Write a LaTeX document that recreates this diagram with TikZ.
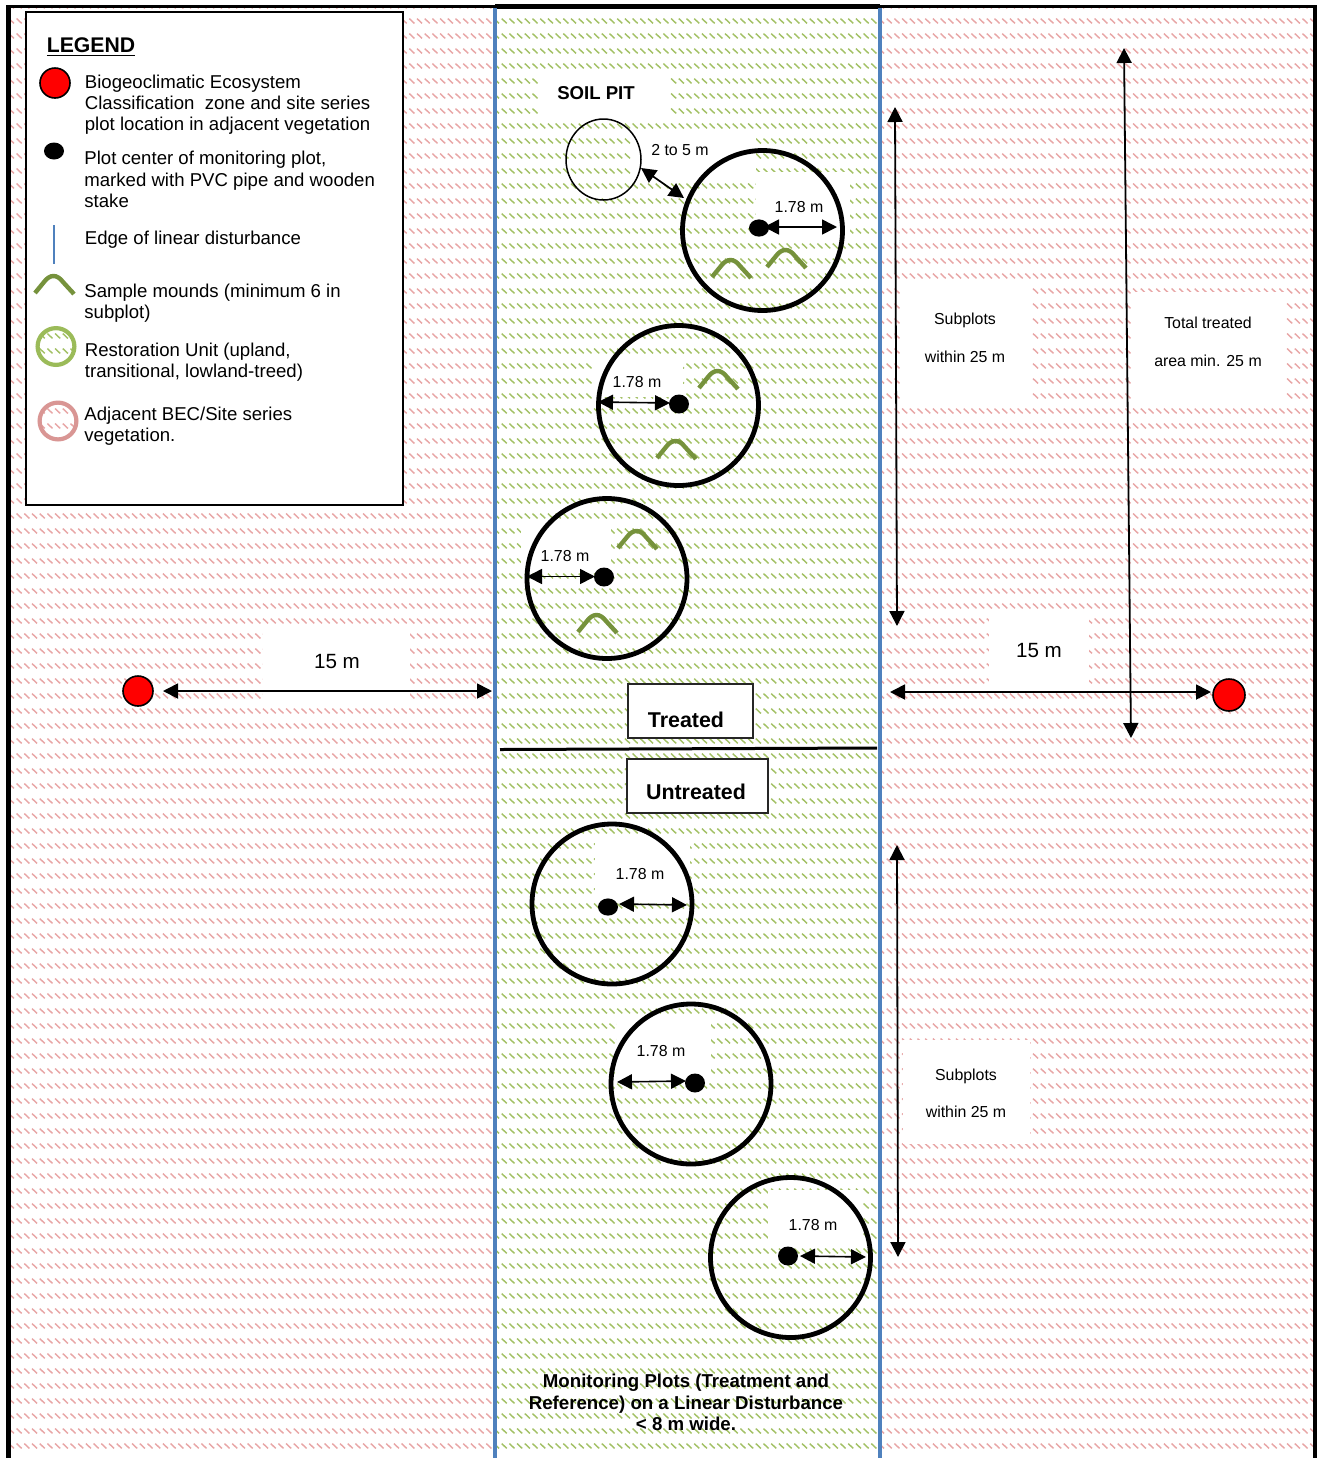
\documentclass[tikz,border=0pt]{standalone}
\usepackage{fontspec}
\setmainfont{Liberation Sans}
\usetikzlibrary{arrows.meta,patterns,shapes.geometric}
\definecolor{hatchgreen}{HTML}{A3C165}
\definecolor{hatchpink}{HTML}{E8A6A6}
\definecolor{ringgreen}{HTML}{9BBB59}
\definecolor{ringpink}{HTML}{D99694}
\definecolor{moundgreen}{HTML}{76923C}
\definecolor{edgeblue}{HTML}{4F81BD}
\pgfdeclarepatternformonly{slashrows}{\pgfqpoint{-0.5pt}{3.5pt}}{\pgfqpoint{4.5pt}{8.5pt}}{\pgfqpoint{3.85pt}{7.5pt}}{%
  \pgfsetlinewidth{0.72pt}
  \pgfpathmoveto{\pgfqpoint{0.6pt}{7.2pt}}
  \pgfpathlineto{\pgfqpoint{3.15pt}{4.8pt}}
  \pgfusepath{stroke}
}
\newcommand{\fpx}[2]{\fontsize{#1pt}{#2pt}\selectfont}
\tikzset{
  x=0.5pt,y=-0.5pt,
  patch/.style={fill=white,draw=none},
  plot/.style={circle,draw=black,line width=2.4pt,minimum size=80pt,inner sep=0pt},
  pit/.style={ellipse,draw=black,line width=0.75pt,minimum width=37.5pt,minimum height=40.5pt,inner sep=0pt},
  centre/.style={ellipse,fill=black,minimum width=10pt,minimum height=8.6pt,inner sep=0pt},
  reddot/.style={circle,fill=red,draw=black,line width=0.8pt,minimum size=15pt,inner sep=0pt},
  dim/.style={draw=black,line width=0.8pt,{Triangle[length=7.5pt,width=7.5pt]}-{Triangle[length=7.5pt,width=7.5pt]}},
  longdim/.style={dim,line width=0.9pt},
  moundline/.style={draw=moundgreen,line width=2.2pt},
  pics/mound/.style={code={\draw[moundline] (0,0) -- (9,-11) .. controls (15,-19) and (22,-19) .. (28,-11) -- (39,1);}},
  small/.style={inner sep=0pt,font=\fpx{7.95}{9}},
  big/.style={inner sep=0pt,font=\fpx{10.3}{12}},
  legendtext/.style={anchor=west,inner sep=0pt,align=left,font=\fpx{9.3}{10.6}},
  heading/.style={inner sep=0pt,font=\fpx{9.3}{11}\bfseries},
  tag/.style={draw=black!85,line width=0.6pt,fill=white},
  tagtext/.style={inner sep=0pt,font=\fpx{10.7}{12}\bfseries},
}
\begin{document}
\begin{tikzpicture}
\useasboundingbox (0,0) rectangle (1317,1458);
\fill[white] (0,0) rectangle (1317,1458);
% hatched ground
\fill[pattern=slashrows,pattern color=hatchpink] (10,8) rectangle (1313,1456);
\fill[white] (496,8) rectangle (878,1458);
\fill[pattern=slashrows,pattern color=hatchgreen] (497,8) rectangle (878,1456);
% white patches behind labels
\fill[patch] (539,72) rectangle (669,117);
\fill[patch] (632,132) rectangle (756,177);
\fill[patch] (756,172) rectangle (850,237);
\fill[patch] (593,355) rectangle (683,397);
\fill[patch] (521,528) rectangle (611,568);
\fill[patch] (595,840) rectangle (690,897);
\fill[patch] (617,1015) rectangle (711,1075);
\fill[patch] (768,1190) rectangle (863,1248);
\fill[patch] (900,285) rectangle (1031,400);
\fill[patch] (1131,292) rectangle (1286,403);
\fill[patch] (989,615) rectangle (1089,685);
\fill[patch] (263,628) rectangle (410,700);
\fill[patch] (903,1040) rectangle (1030,1144);
% frame
\fill[black] (6,5) rectangle (11,1458);
\fill[black] (1313,5) rectangle (1317,1458);
\fill[black] (6,5) rectangle (1317,8);
\fill[black] (495,4) rectangle (880,9);
% edges of the disturbance
\draw[edgeblue,line width=2pt] (494.5,8) -- (494.5,1458);
\draw[edgeblue,line width=2pt] (879.5,8) -- (879.5,1458);
\draw[black,line width=1.5pt] (500,749.5) -- (877,748);
% tags
\node[tag,minimum width=62.5pt,minimum height=27pt,inner sep=0pt] (treatedbox) at (690.5,711) {};
\node[tagtext] (treated) at (686,720) {Treated};
\node[tag,minimum width=70.5pt,minimum height=27pt,inner sep=0pt] (untreatedbox) at (697.5,786) {};
\node[tagtext] (untreated) at (696,792) {Untreated};
% plots
\node[pit] (soilpit) at (603.5,159.5) {};
\node[plot] (p1) at (762.5,230.5) {};
\node[plot] (p2) at (678.5,405.5) {};
\node[plot] (p3) at (607,578.5) {};
\node[plot] (u1) at (612,904) {};
\node[plot] (u2) at (691,1084) {};
\node[plot] (u3) at (790.5,1257.5) {};
% mounds
\pic (m1) at (712,277) {mound};
\pic (m2) at (767,267) {mound};
\pic (m3) at (699,388) {mound};
\pic (m4) at (657,458) {mound};
\pic (m5) at (618,548) {mound};
\pic (m6) at (578,632) {mound};
% centres
\node[centre] (cp1) at (759,228) {};
\node[centre,minimum height=9.5pt] (cp2) at (679,404) {};
\node[centre,minimum height=9.5pt] (cp3) at (604,577) {};
\node[centre] (cu1) at (608,907) {};
\node[centre,minimum height=9.5pt] (cu2) at (695,1083) {};
\node[centre,minimum height=9.5pt] (cu3) at (788,1256) {};
% radius arrows
\coordinate (ep1a) at (764,227);
\coordinate (ep1) at (837,227);
\coordinate (ep2a) at (670,403);
\coordinate (ep2) at (598,402);
\coordinate (ep3a) at (595,576.5);
\coordinate (ep3) at (527,576.5);
\coordinate (eu1a) at (619,904);
\coordinate (eu1) at (687,905);
\coordinate (eu2a) at (686,1081);
\coordinate (eu2) at (617,1082);
\coordinate (eu3a) at (800,1256);
\coordinate (eu3) at (866,1257);
\draw[dim] (ep1a) -- (ep1);
\draw[dim] (ep2) -- (ep2a);
\draw[dim] (ep3) -- (ep3a);
\draw[dim] (eu1a) -- (eu1);
\draw[dim] (eu2) -- (eu2a);
\draw[dim] (eu3a) -- (eu3);
\coordinate (pitend) at (641,168);
\coordinate (plotend) at (684,198);
\draw[dim,line width=0.85pt] (pitend) -- (plotend);
% long dimensions
\node[reddot] (redleft) at (138,691) {};
\node[reddot,minimum size=16pt] (redright) at (1229,695) {};
\coordinate (l15a) at (163,691);
\coordinate (l15b) at (492,691);
\coordinate (r15a) at (890,692);
\coordinate (r15b) at (1211,692);
\coordinate (s1a) at (895,107);
\coordinate (s1b) at (897,626);
\coordinate (s2a) at (897,845);
\coordinate (s2b) at (898,1257);
\coordinate (ta) at (1124,48);
\coordinate (tb) at (1131,738);
\draw[longdim] (l15a) -- (l15b);
\draw[longdim] (r15a) -- (r15b);
\draw[longdim] (s1a) -- (s1b);
\draw[longdim] (s2a) -- (s2b);
\draw[longdim] (ta) -- (tb);
% labels
\node[heading] (soil) at (596,93) {SOIL PIT};
\node[small] (lpit) at (680,150) {2 to 5 m};
\node[small] (l1) at (799,207) {1.78 m};
\node[small] (l2) at (637,382) {1.78 m};
\node[small] (l3) at (565,556) {1.78 m};
\node[small] (l4) at (640,874) {1.78 m};
\node[small] (l5) at (661,1051) {1.78 m};
\node[small] (l6) at (813,1225) {1.78 m};
\node[small] (sa1) at (965,320) {Subplots};
\node[small] (sa2) at (965,357) {within 25 m};
\node[small] (sb1) at (966,1076) {Subplots};
\node[small] (sb2) at (966,1112) {within 25 m};
\node[small] (tt1) at (1208,323) {Total treated};
\node[small] (tt2) at (1208,361) {area min. 25 m};
\node[big] (b15l) at (337,661.5) {15 m};
\node[big] (b15r) at (1039,650.5) {15 m};
\node[inner sep=0pt,align=center,font=\fpx{9.33}{10.7}\bfseries] (caption) at (686,1402.5) {Monitoring Plots (Treatment and\\Reference) on a Linear Disturbance\\< 8 m wide.};
% legend
\node[draw=black,line width=1pt,fill=white,minimum width=188.5pt,minimum height=246.5pt,inner sep=0pt] (legend) at (214.5,258.5) {};
\node[inner sep=0pt,anchor=west,font=\fpx{10.6}{12}\bfseries] (legendtitle) at (46.5,47.5) {\underline{LEGEND}};
\node[reddot] (kred) at (55,83) {};
\node[legendtext] (t1) at (84.5,104.5) {Biogeoclimatic Ecosystem\\Classification\ \ zone and site series\\plot location in adjacent vegetation};
\node[centre,minimum height=8.5pt] (kblack) at (54,151) {};
\node[legendtext] (t2) at (84,179.5) {Plot center of monitoring plot,\\marked with PVC pipe and wooden\\stake};
\coordinate (kb1) at (53.5,225);
\coordinate (kb2) at (53.5,264);
\draw[edgeblue,line width=1pt] (kb1) -- (kb2);
\node[legendtext] (t3) at (84.5,240) {Edge of linear disturbance};
\pic (km) at (35,293) {mound};
\node[legendtext] (t4) at (84,303) {Sample mounds (minimum 6 in\\subplot)};
\node[circle,draw=ringgreen,line width=2.1pt,minimum size=18.4pt,inner sep=0pt,pattern=slashrows,pattern color=hatchgreen] (kgreen) at (56,346.5) {};
\node[legendtext] (t5) at (84.5,362) {Restoration Unit (upland,\\transitional, lowland-treed)};
\node[circle,draw=ringpink,line width=2.1pt,minimum size=18.4pt,inner sep=0pt,pattern=slashrows,pattern color=hatchpink] (kpink) at (58,421) {};
\node[legendtext] (t6) at (84,426) {Adjacent BEC/Site series\\vegetation.};
\end{tikzpicture}
\end{document}
